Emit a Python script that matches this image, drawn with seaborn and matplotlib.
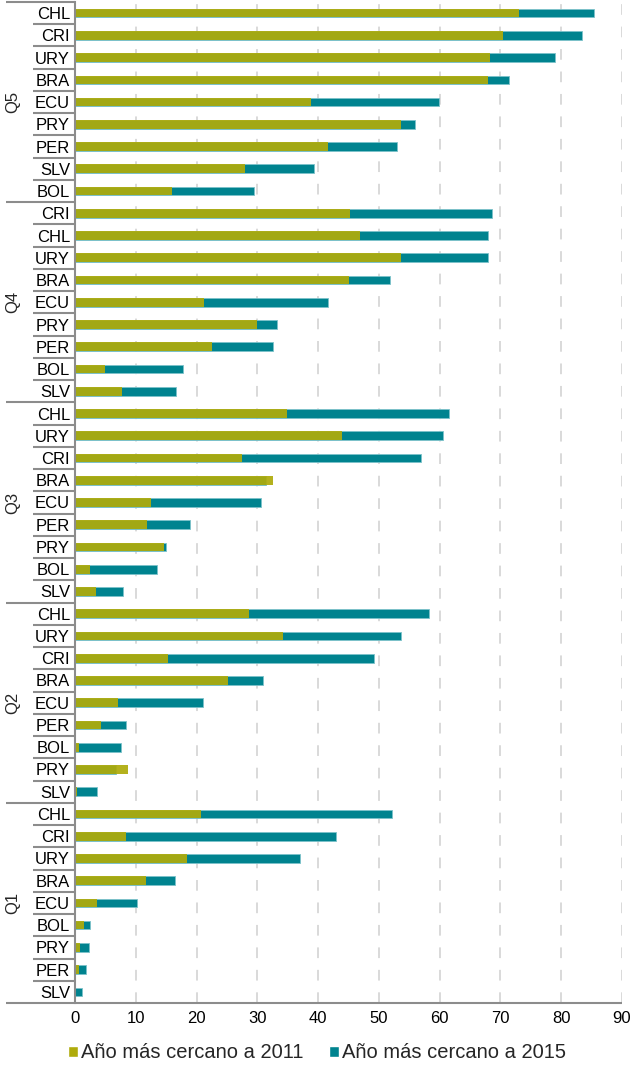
import matplotlib.pyplot as plt
import pandas as pd
import seaborn as sns
from matplotlib.patches import Patch

# Data (percent)
groups = ['Q5', 'Q4', 'Q3', 'Q2', 'Q1']

q5_countries = ['CHL', 'CRI', 'URY', 'BRA', 'ECU', 'PRY', 'PER', 'SLV', 'BOL']
q5_2011 = [73.0, 70.4, 68.2, 67.9, 38.8, 53.6, 41.6, 27.9, 16.0]
q5_2015 = [85.4, 83.5, 78.9, 71.4, 59.9, 56.0, 53.0, 39.3, 29.4]

q4_countries = ['CRI', 'CHL', 'URY', 'BRA', 'ECU', 'PRY', 'PER', 'BOL', 'SLV']
q4_2011 = [45.2, 46.9, 53.7, 45.1, 21.2, 29.9, 22.6, 4.9, 7.7]
q4_2015 = [68.6, 68.0, 68.0, 51.9, 41.6, 33.2, 32.6, 17.8, 16.6]

q3_countries = ['CHL', 'URY', 'CRI', 'BRA', 'ECU', 'PER', 'PRY', 'BOL', 'SLV']
q3_2011 = [34.8, 43.9, 27.4, 32.6, 12.5, 11.8, 14.7, 2.5, 3.4]
q3_2015 = [61.5, 60.6, 57.0, 31.4, 30.6, 18.9, 14.9, 13.5, 7.9]

q2_countries = ['CHL', 'URY', 'CRI', 'BRA', 'ECU', 'PER', 'BOL', 'PRY', 'SLV']
q2_2011 = [28.6, 34.3, 15.3, 25.2, 7.1, 4.3, 0.7, 8.8, 0.4]
q2_2015 = [58.3, 53.7, 49.2, 30.9, 21.0, 8.4, 7.5, 6.8, 3.6]

q1_countries = ['CHL', 'CRI', 'URY', 'BRA', 'ECU', 'BOL', 'PRY', 'PER', 'SLV']
q1_2011 = [20.7, 8.4, 18.5, 11.6, 3.6, 1.5, 0.8, 0.7, 0.1]
q1_2015 = [52.1, 43.0, 37.0, 16.4, 10.2, 2.5, 2.3, 1.8, 1.1]

x_ticks = [0, 10, 20, 30, 40, 50, 60, 70, 80, 90]
label_2011 = 'Año más cercano a 2011'
label_2015 = 'Año más cercano a 2015'

OLIVE = '#AFAB0B'
TEAL = '#00838F'
LINE = '#8c8c8c'

# Build a long table, one row per (group, country)
rows = []
for g, cs, v11, v15 in zip(groups,
                           [q5_countries, q4_countries, q3_countries, q2_countries, q1_countries],
                           [q5_2011, q4_2011, q3_2011, q2_2011, q1_2011],
                           [q5_2015, q4_2015, q3_2015, q2_2015, q1_2015]):
    for c, a, b in zip(cs, v11, v15):
        rows.append({'key': g + '-' + c, 'group': g, 'country': c, 'y2011': a, 'y2015': b})
df = pd.DataFrame(rows)

sns.set_style('white')
plt.rcParams['font.family'] = ['Liberation Sans', 'DejaVu Sans']

fig = plt.figure(figsize=(6.34, 10.65), dpi=100)
ax = fig.add_axes([75 / 634, 1 - 1003 / 1065, 547 / 634, 1001 / 1065])

# 2015 drawn behind, 2011 overlaid on top
sns.barplot(data=df, x='y2015', y='key', order=df['key'], color=TEAL, saturation=1,
            width=0.39, edgecolor='#7cc2ca', linewidth=0.6, errorbar=None, ax=ax, zorder=2)
sns.barplot(data=df, x='y2011', y='key', order=df['key'], color=OLIVE, saturation=1,
            width=0.39, alpha=0.93, linewidth=0, errorbar=None, ax=ax, zorder=3)

n = len(df)
ax.set_xlim(0, 90)
ax.set_ylim(n - 0.5, -0.5)
ax.set_xticks(x_ticks)
ax.set_yticks(range(n))
ax.set_yticklabels(df['country'])
ax.set_xlabel('')
ax.set_ylabel('')
ax.tick_params(axis='y', length=0, pad=3.6, labelsize=12, colors='black')
ax.tick_params(axis='x', length=0, pad=6, labelsize=12, colors='black')

# dashed vertical gridlines
for t in x_ticks[1:]:
    ax.axvline(t, color='#cfcfcf', linewidth=1.1, linestyle=(0, (7.0, 7.7)), zorder=0.5)

for s in ['top', 'right', 'bottom']:
    ax.spines[s].set_visible(False)
ax.spines['left'].set_color(LINE)
ax.spines['left'].set_linewidth(1.5)
ax.spines['left'].set_zorder(5)

# Two-level category axis: inner separators and group separators
trans = ax.get_yaxis_transform()
inner_x = (33 - 75) / 547
outer_x = (6 - 75) / 547
group_sizes = [len(q5_countries), len(q4_countries), len(q3_countries),
               len(q2_countries), len(q1_countries)]
start = 0
for g, size in zip(groups, group_sizes):
    ax.plot([outer_x, 0], [start - 0.5, start - 0.5], transform=trans, color=LINE,
            linewidth=1.5, clip_on=False, solid_capstyle='butt')
    for i in range(start, start + size - 1):
        ax.plot([inner_x, 0], [i + 0.5, i + 0.5], transform=trans, color=LINE,
                linewidth=1.5, clip_on=False, solid_capstyle='butt')
    ax.text((13 - 75) / 547, start + (size - 1) / 2, g, transform=trans, rotation=90,
            ha='center', va='center', fontsize=12)
    start += size
ax.plot([outer_x, 1], [n - 0.5, n - 0.5], transform=trans, color=LINE,
        linewidth=1.5, clip_on=False, solid_capstyle='butt', zorder=5)

handles = [Patch(facecolor=OLIVE, label=label_2011), Patch(facecolor=TEAL, label=label_2015)]
fig.legend(handles=handles, loc='center', bbox_to_anchor=(0.5, 1 - 1053 / 1065), ncol=2,
           frameon=False, fontsize=14.5, handlelength=0.5, handleheight=0.5,
           handletextpad=0.15, columnspacing=1.3)

fig.savefig('out.png', dpi=100)
